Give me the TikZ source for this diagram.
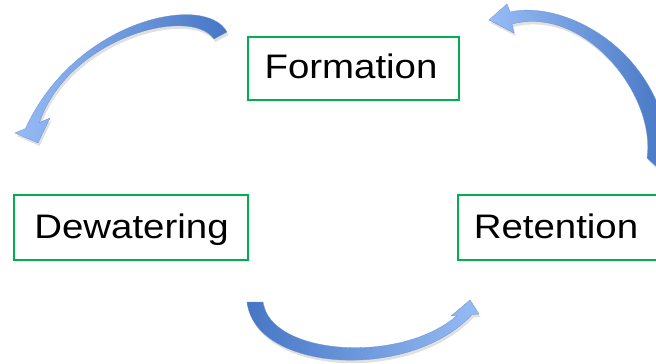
\documentclass[tikz,border=0pt]{standalone}
\usepackage{graphicx}
\usepackage{fontspec}
\setmainfont{Liberation Sans}
\definecolor{boxgreen}{RGB}{0,176,80}
\definecolor{arrdark}{RGB}{70,118,196}
\definecolor{arrlight}{RGB}{150,188,245}
\tikzset{
  stagebox/.style={draw=boxgreen, line width=2pt, fill=white, inner sep=0pt},
  stagetext/.style={anchor=base, inner sep=0pt, font=\fontsize{34}{40}\selectfont},
  arrshadow/.style={fill=black, opacity=0.12},
}
\newcommand\arrowTL[1]{\path[#1] (227,32) .. controls (205,-8) and (75,20) .. (25.5,128.5)
  -- (15,133) -- (38,143) -- (50,118) -- (39.5,122.5)
  .. controls (68,38) and (190,5) .. (214,39) -- cycle;}
\newcommand\arrowTR[1]{\path[#1] (510,12) .. controls (560,0) and (660,45) .. (670,155)
  -- (658,168) -- (647,158)
  .. controls (656,95) and (585,5) .. (512,24)
  -- (514,33) -- (489,20) -- (507,4) -- cycle;}
\newcommand\arrowB[1]{\path[#1] (247,302) .. controls (255,372) and (410,382) .. (472,314.5)
  -- (479,314) -- (470,300) -- (451,316) -- (457,315.6)
  .. controls (400,365) and (270,355) .. (263,302) -- cycle;}
\begin{document}
\begin{tikzpicture}[x=1pt,y=-1pt]
\useasboundingbox (0,0) rectangle (656,364);
\clip (0,0) rectangle (656,364);
% boxes
\node[stagebox, minimum width=211pt, minimum height=63pt] (form) at (353.5,68.5) {};
\node[stagebox, minimum width=234pt, minimum height=65pt] (dew) at (131,227.5) {};
\node[stagebox, minimum width=202pt, minimum height=65pt] (ret) at (559,227.5) {};
% labels
\node[stagetext] (tform) at (351,78) {\scalebox{1.13}[1]{Formation}};
\node[stagetext] (tdew) at (131.5,238) {\scalebox{1.13}[1]{Dewatering}};
\node[stagetext] (tret) at (556,238) {\scalebox{1.13}[1]{Retention}};
% curved arrows: shadows
\begin{scope}[shift={(1.5,3)}]
\arrowTL{arrshadow}
\arrowTR{arrshadow}
\arrowB{arrshadow}
\end{scope}
% curved arrows
\arrowTL{left color=arrlight, right color=arrdark, draw=arrdark!80, line width=0.3pt}
\arrowTR{left color=arrlight, right color=arrdark, draw=arrdark!80, line width=0.3pt}
\arrowB{left color=arrdark, right color=arrlight, draw=arrdark!80, line width=0.3pt}
\end{tikzpicture}
\end{document}
